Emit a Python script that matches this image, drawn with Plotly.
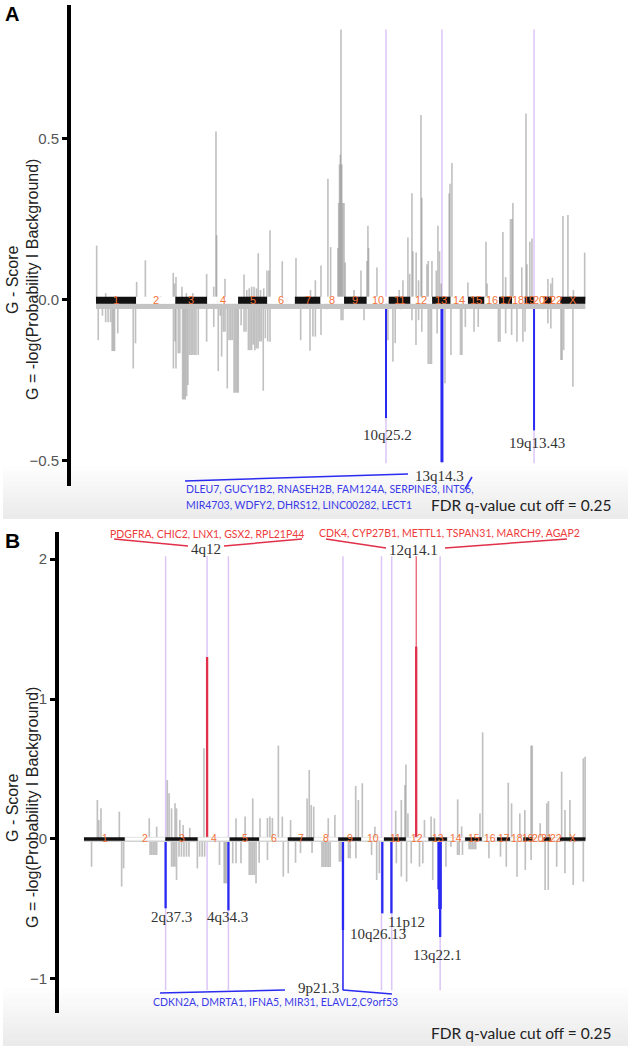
import plotly.graph_objects as go

W, H = 633, 1051

# ---------------- data ----------------
chrom_names = [str(i) for i in range(1, 23)] + ["X"]
chrom_len = [249, 243, 198, 191, 181, 171, 159, 146, 141, 136, 135, 134, 115,
             107, 103, 90, 81, 78, 59, 63, 48, 51, 155]

# Panel A (genome position in Mb, G-score)
a_amp_pos = [4, 60, 252, 306, 400, 479, 487, 496, 533, 560, 600, 686, 730, 744, 748, 800,
             918, 935, 950, 965, 980, 995, 1006, 1020, 1040, 1060, 1072, 1079, 1155,
             1240, 1330, 1360, 1395, 1438, 1455, 1500, 1505, 1510, 1515, 1519, 1524, 1530,
             1538, 1545, 1600, 1643, 1680, 1686, 1690, 1742, 1880, 1903, 1934, 1945, 1959,
             1965, 1985, 2000, 2015, 2020, 2052, 2060, 2083, 2110, 2120, 2130, 2140, 2190,
             2195, 2207, 2306, 2418, 2425, 2523, 2540, 2570, 2579, 2585, 2640, 2666, 2672,
             2690, 2703, 2802, 2820, 2830, 2895, 2926, 2960, 3030]
a_amp_val = [0.168, 0.02, 0.055, 0.122, 0.01, 0.083, 0.05, 0.07, 0.04, 0.02, 0.02, 0.08, 0.04,
             0.522, 0.2, 0.065, 0.078, 0.03, 0.035, 0.04, 0.04, 0.035, 0.144, 0.03, 0.035,
             0.09, 0.09, 0.215, 0.119, 0.129, 0.03, 0.06, 0.106, 0.375, 0.163, 0.16, 0.3,
             0.42, 0.45, 0.839, 0.42, 0.3, 0.3, 0.115, 0.03, 0.09, 0.12, 0.229, 0.16, 0.10,
             0.03, 0.06, 0.193, 0.08, 0.33, 0.15, 0.146, 0.06, 0.573, 0.316, 0.11, 0.12,
             0.12, 0.09, 0.229, 0.15, 0.05, 0.33, 0.36, 0.424, 0.053, 0.18, 0.05, 0.21,
             0.07, 0.25, 0.25, 0.30, 0.1, 0.578, 0.11, 0.18, 0.19, 0.064, 0.05, 0.068,
             0.26, 0.263, 0.03, 0.146]
a_del_pos = [14, 40, 60, 75, 90, 100, 108, 115, 135, 160, 200, 231, 245, 300, 400, 480, 490,
             496, 510, 520, 537, 545, 553, 562, 570, 580, 590, 600, 610, 620, 634, 686, 730,
             758, 770, 779, 790, 800, 814, 825, 835, 845, 856, 865, 874, 882, 900, 918, 930,
             945, 955, 965, 975, 985, 995, 1005, 1015, 1025, 1037, 1050, 1065, 1079, 1150,
             1269, 1327, 1345, 1360, 1395, 1430, 1520, 1531, 1662, 1810, 1841, 1855, 1890,
             1959, 1984, 2000, 2020, 2060, 2071, 2080, 2115, 2164, 2201, 2260, 2269, 2290,
             2344, 2370, 2495, 2505, 2540, 2577, 2610, 2647, 2660, 2770, 2802, 2820, 2883,
             2890, 2900, 2957]
a_del_val = [-0.126, -0.05, -0.07, -0.07, -0.07, -0.16, -0.16, -0.16, -0.105, -0.02, -0.02,
             -0.214, -0.136, -0.01, -0.01, -0.214, -0.13, -0.214, -0.167, -0.167, -0.31,
             -0.31, -0.31, -0.3, -0.265, -0.172, -0.172, -0.172, -0.172, -0.172, -0.172,
             -0.131, -0.085, -0.222, -0.05, -0.177, -0.1, -0.1, -0.276, -0.126, -0.126,
             -0.126, -0.289, -0.289, -0.289, -0.289, -0.08, -0.1, -0.1, -0.157, -0.157,
             -0.157, -0.14, -0.157, -0.152, -0.152, -0.13, -0.13, -0.283, -0.12, -0.13,
             -0.131, -0.02, -0.126, -0.159, -0.115, -0.115, -0.11, -0.03, -0.064, -0.064,
             -0.064, -0.126, -0.193, -0.136, -0.03, -0.064, -0.141, -0.064, -0.1, -0.2,
             -0.2, -0.2, -0.105, -0.26, -0.172, -0.172, -0.172, -0.085, -0.1, -0.085,
             -0.131, -0.131, -0.105, -0.11, -0.131, -0.131, -0.1, -0.03, -0.074, -0.09,
             -0.188, -0.188, -0.157, -0.271]
a_peak_names = ["10q25.2", "13q14.3", "19q13.43"]
a_peak_pos = [1798, 2145, 2716]
a_peak_val = [-0.368, -0.505, -0.406]
a_genes = ["DLEU7, GUCY1B2, RNASEH2B, FAM124A, SERPINE3, INTS6,",
           "MIR4703, WDFY2, DHRS12, LINC00282, LECT1"]

# Panel B
b_amp_pos = [81, 90, 103, 214, 395, 440, 504, 515, 530, 551, 560, 580, 600, 640, 726, 920,
             975, 1021, 1065, 1110, 1125, 1140, 1176, 1200, 1250, 1350, 1363, 1375, 1390,
             1478, 1518, 1644, 1660, 1684, 1760, 1886, 1920, 1942, 1948, 1960, 2060, 2100,
             2120, 2261, 2285, 2396, 2412, 2567, 2587, 2637, 2667, 2705, 2712, 2760, 2800,
             2810, 2890, 2910, 2940, 3021, 3032]
b_amp_val = [0.279, 0.136, 0.219, 0.195, 0.148, 0.088, 0.421, 0.326, 0.219, 0.255, 0.219,
             0.136, 0.1, 0.08, 0.648, 0.148, 0.16, 0.29, 0.148, 0.15, 0.16, 0.15, 0.667,
             0.16, 0.136, 0.29, 0.493, 0.243, 0.231, 0.148, 0.171, 0.379, 0.279, 0.398,
             0.088, 0.202, 0.279, 0.386, 0.533, 0.183, 0.136, 0.16, 0.148, 0.283, 0.09,
             0.183, 0.762, 0.402, 0.255, 0.183, 0.207, 0.667, 0.667, 0.112, 0.255, 0.271,
             0.481, 0.207, 0.279, 0.576, 0.588]
b_del_pos = [46, 228, 240, 400, 410, 420, 430, 440, 530, 540, 550, 560, 575, 590, 605, 620,
             635, 686, 700, 715, 730, 820, 848, 855, 862, 900, 920, 950, 1000, 1010, 1020,
             1030, 1041, 1060, 1110, 1206, 1236, 1280, 1310, 1380, 1440, 1450, 1460, 1470,
             1480, 1490, 1545, 1555, 1600, 1610, 1645, 1740, 1771, 1787, 1890, 1920, 1952,
             1980, 2030, 2050, 2110, 2190, 2220, 2260, 2270, 2290, 2330, 2340, 2350, 2360,
             2370, 2450, 2520, 2555, 2620, 2670, 2705, 2790, 2809, 2860, 2910, 2960, 3021]
b_del_val = [-0.198, -0.34, -0.21, -0.114, -0.114, -0.114, -0.114, -0.114, -0.198, -0.198,
             -0.198, -0.293, -0.126, -0.126, -0.126, -0.126, -0.126, -0.21, -0.126, -0.126,
             -0.126, -0.186, -0.317, -0.317, -0.317, -0.174, -0.174, -0.174, -0.257, -0.257,
             -0.257, -0.257, -0.317, -0.17, -0.15, -0.269, -0.245, -0.17, -0.1, -0.1, -0.2,
             -0.2, -0.2, -0.2, -0.2, -0.2, -0.162, -0.162, -0.138, -0.138, -0.138, -0.114,
             -0.293, -0.245, -0.174, -0.269, -0.305, -0.174, -0.198, -0.174, -0.293, -0.198,
             -0.055, -0.114, -0.114, -0.114, -0.074, -0.074, -0.074, -0.074, -0.074, -0.138,
             -0.126, -0.198, -0.269, -0.221, -0.15, -0.364, -0.364, -0.198, -0.245, -0.329,
             -0.305]
b_red_names = ["4q12", "12q14.1"]
b_red_pos = [745, 2010]
b_red_val = [1.30, 1.374]
b_blue_names = ["2q37.3", "4q34.3", "9p21.3", "10q26.13", "11p12", "13q22.1"]
b_blue_pos = [494, 874, 1567, 1805, 1860, 2155]
b_blue_val = [-0.495, -0.51, -0.65, -0.531, -0.531, -0.70]
b_blue_core_pos = [2145, 2150, 2158]
b_blue_core_val = [-0.36, -0.50, -0.50]
b_marker_pos = [494, 745, 874, 1567, 1800, 1862, 2155]
b_genes_red = ["PDGFRA, CHIC2, LNX1, GSX2, RPL21P44",
               "CDK4, CYP27B1, METTL1, TSPAN31, MARCH9, AGAP2"]
b_genes_blue = "CDKN2A, DMRTA1, IFNA5, MIR31, ELAVL2,C9orf53"
fdr_text = "FDR q-value cut off = 0.25"

# ---------------- helpers ----------------
starts = []
acc = 0
for L in chrom_len:
    starts.append(acc)
    acc += L
genome_end = acc


def px(x):
    return min(1.0, max(0.0, x / W))


def py(y):
    return min(1.0, max(0.0, 1 - y / H))


GRAY = "rgba(150,150,150,0.6)"
BLUE = "#2a2af2"
RED = "#e0304a"
PURPLE = "#dcc6f8"
ORANGE = "#f4733a"

fig = go.Figure()
shapes = []
ann = []


def note(x, y, text, size, color, family="Liberation Sans", xanchor="center", **kw):
    d = dict(x=x, y=y, xref="paper", yref="paper", text=text, showarrow=False,
             xanchor=xanchor, yanchor="middle",
             font=dict(family=family, size=size, color=color))
    d.update(kw)
    ann.append(d)


# gradient bands
for (y0, y1) in [(466, 519), (988, 1046)]:
    n = 10
    for i in range(n):
        top = y0 + (y1 - y0) * i / n
        shapes.append(dict(type="rect", xref="paper", yref="paper", x0=px(3), x1=px(628),
                           y0=py(y1), y1=py(top), fillcolor="rgba(0,0,0,0.009)",
                           line=dict(width=0), layer="below"))

# ---- Panel A ----
fig.add_trace(go.Bar(x=a_amp_pos, y=a_amp_val, width=10, marker=dict(color=GRAY, line=dict(width=0)),
                     xaxis="x", yaxis="y", showlegend=False, hoverinfo="skip"))
fig.add_trace(go.Bar(x=a_del_pos, y=a_del_val, width=10, marker=dict(color=GRAY, line=dict(width=0)),
                     xaxis="x", yaxis="y", showlegend=False, hoverinfo="skip"))
for p in a_peak_pos:
    shapes.append(dict(type="line", xref="x", yref="y", x0=p, x1=p, y0=-0.508, y1=0.839,
                       line=dict(color=PURPLE, width=1.5), layer="below"))
for i, (p, v) in enumerate(zip(a_peak_pos, a_peak_val)):
    fig.add_trace(go.Scatter(x=[p, p], y=[0, v], mode="lines",
                             line=dict(color=BLUE, width=3 if i == 1 else 2),
                             xaxis="x", yaxis="y", showlegend=False, hoverinfo="skip"))

# chromosome bands A
shapes.append(dict(type="rect", xref="x", yref="y", x0=0, x1=genome_end, y0=-0.029, y1=-0.012,
                   fillcolor="#c4c4c4", line=dict(width=0), layer="above"))
for i, (s, L) in enumerate(zip(starts, chrom_len)):
    odd = i % 2 == 0
    shapes.append(dict(type="rect", xref="x", yref="y", x0=s, x1=s + L, y0=-0.013, y1=0.009,
                       fillcolor="#111111" if odd else "white", line=dict(width=0), layer="above"))
    ann.append(dict(x=s + L / 2, y=-0.002, xref="x", yref="y", text=chrom_names[i], showarrow=False,
                    xanchor="center", yanchor="middle",
                    font=dict(family="Liberation Sans", size=11, color=ORANGE)))

# peak labels A
a_lab_px = [(387, 435), (439, 476), (537, 443)]
for name, (lx, ly) in zip(a_peak_names, a_lab_px):
    note(px(lx), py(ly), name, 15, "#333333", family="Liberation Serif")
# gene list A
for t, ly in zip(a_genes, [489, 505]):
    note(px(184), py(ly), t, 10.5, "#3a3ae8", family="Lato", xanchor="left")
shapes.append(dict(type="line", xref="paper", yref="paper", x0=px(185), y0=py(481), x1=px(408), y1=py(474),
                   line=dict(color=BLUE, width=1.5)))
shapes.append(dict(type="line", xref="paper", yref="paper", x0=px(465), y0=py(489), x1=px(472), y1=py(477),
                   line=dict(color=BLUE, width=1.5)))

# ---- Panel B ----
fig.add_trace(go.Bar(x=b_amp_pos, y=b_amp_val, width=10, marker=dict(color=GRAY, line=dict(width=0)),
                     xaxis="x2", yaxis="y2", showlegend=False, hoverinfo="skip"))
fig.add_trace(go.Bar(x=b_del_pos, y=b_del_val, width=10, marker=dict(color=GRAY, line=dict(width=0)),
                     xaxis="x2", yaxis="y2", showlegend=False, hoverinfo="skip"))
for p in b_marker_pos:
    shapes.append(dict(type="line", xref="x2", yref="y2", x0=p, x1=p, y0=-1.08, y1=2.02,
                       line=dict(color=PURPLE, width=1.5), layer="below"))
shapes.append(dict(type="line", xref="x2", yref="y2", x0=b_red_pos[1], x1=b_red_pos[1], y0=0, y1=2.02,
                   line=dict(color=RED, width=1), layer="below"))
fig.add_trace(go.Bar(x=b_red_pos, y=b_red_val, width=14, marker=dict(color=RED, line=dict(width=0)),
                     xaxis="x2", yaxis="y2", showlegend=False, hoverinfo="skip"))
fig.add_trace(go.Bar(x=b_blue_pos, y=b_blue_val, width=14, marker=dict(color=BLUE, line=dict(width=0)),
                     xaxis="x2", yaxis="y2", showlegend=False, hoverinfo="skip"))
fig.add_trace(go.Bar(x=b_blue_core_pos, y=b_blue_core_val, width=14, marker=dict(color=BLUE, line=dict(width=0)),
                     xaxis="x2", yaxis="y2", showlegend=False, hoverinfo="skip"))
shapes.append(dict(type="line", xref="x2", yref="y2", x0=b_blue_pos[2], x1=b_blue_pos[2], y0=0, y1=-1.08,
                   line=dict(color=BLUE, width=1.5)))

# chromosome bands B
shapes.append(dict(type="line", xref="x2", yref="y2", x0=0, x1=genome_end, y0=-0.016, y1=-0.016,
                   line=dict(color="#d0d0d0", width=1.5), layer="above"))
for i, (s, L) in enumerate(zip(starts, chrom_len)):
    odd = i % 2 == 0
    shapes.append(dict(type="rect", xref="x2", yref="y2", x0=s, x1=s + L, y0=-0.013, y1=0.012,
                       fillcolor="#111111" if odd else "white",
                       line=dict(width=0.8 if not odd else 0, color="#dddddd"), layer="above"))
    ann.append(dict(x=s + L / 2, y=0.01, xref="x2", yref="y2", text=chrom_names[i], showarrow=False,
                    xanchor="center", yanchor="middle",
                    font=dict(family="Liberation Sans", size=10.5, color=ORANGE)))

b_blue_lab_px = [(171, 917), (227, 917), (318, 988), (378, 934), (406, 922), (437, 955)]
for name, (lx, ly) in zip(b_blue_names, b_blue_lab_px):
    note(px(lx), py(ly), name, 15, "#333333", family="Liberation Serif")
b_red_lab_px = [(206, 549), (413, 550)]
for name, (lx, ly) in zip(b_red_names, b_red_lab_px):
    note(px(lx), py(ly), name, 15, "#333333", family="Liberation Serif")
for t, (lx, ly) in zip(b_genes_red, [(207, 534), (449, 533)]):
    note(px(lx), py(ly), t, 10.5, "#ee3b3b", family="Lato")
note(px(275), py(1002), b_genes_blue, 10.5, "#3a3ae8", family="Lato")
for (x0, y0, x1, y1) in [(114, 539, 188, 546), (224, 546, 302, 539), (326, 539, 386, 548), (445, 548, 567, 539)]:
    shapes.append(dict(type="line", xref="paper", yref="paper", x0=px(x0), y0=py(y0), x1=px(x1), y1=py(y1),
                       line=dict(color=RED, width=1.5)))
for (x0, y0, x1, y1) in [(160, 993, 285, 990), (343, 990, 392, 994)]:
    shapes.append(dict(type="line", xref="paper", yref="paper", x0=px(x0), y0=py(y0), x1=px(x1), y1=py(y1),
                       line=dict(color=BLUE, width=1.5)))

# FDR texts
for ly in [505, 1033]:
    note(px(521), py(ly), fdr_text, 15.5, "#222222", family="Lato")

# panel letters and axis titles
note(px(12), py(14), "<b>A</b>", 20, "black")
note(px(12), py(540), "<b>B</b>", 21, "black")
for cy in [280, 808]:
    note(px(12), py(cy), "G - Score", 16, "#222222", textangle=-90)
    note(px(32), py(cy), "G = -log(Probability I Background)", 16, "#222222", textangle=-90)

axis_common = dict(showgrid=False, zeroline=False, showline=True, linecolor="black", linewidth=4,
                   ticks="outside", ticklen=5, tickwidth=3, tickcolor="black",
                   tickfont=dict(family="Liberation Sans", size=15, color="#555555"))

fig.update_layout(
    width=W, height=H, autosize=False,
    margin=dict(l=0, r=0, t=0, b=0),
    paper_bgcolor="white", plot_bgcolor="rgba(0,0,0,0)",
    barmode="overlay", showlegend=False,
    xaxis=dict(domain=[px(71), px(600)], range=[-155, 3125], visible=False, anchor="y"),
    yaxis=dict(domain=[py(486), py(5)], range=[-0.579, 0.915], anchor="x",
               tickvals=[-0.5, 0, 0.5], ticktext=["\u22120.5", "0.0", "0.5"], **axis_common),
    xaxis2=dict(domain=[px(59), px(600)], range=[-151, 3122], visible=False, anchor="y2"),
    yaxis2=dict(domain=[py(1013), py(532)], range=[-1.243, 2.193], anchor="x2",
                tickvals=[-1, 0, 1, 2], ticktext=["\u22121", "0", "1", "2"], **axis_common),
    shapes=shapes, annotations=ann,
)

# remove the browser's default 8px body margin so the figure sits at the page origin
fig.write_html("out.html", config={"displayModeBar": False},
               post_script="document.body.style.margin='0';document.body.style.overflow='hidden';")
